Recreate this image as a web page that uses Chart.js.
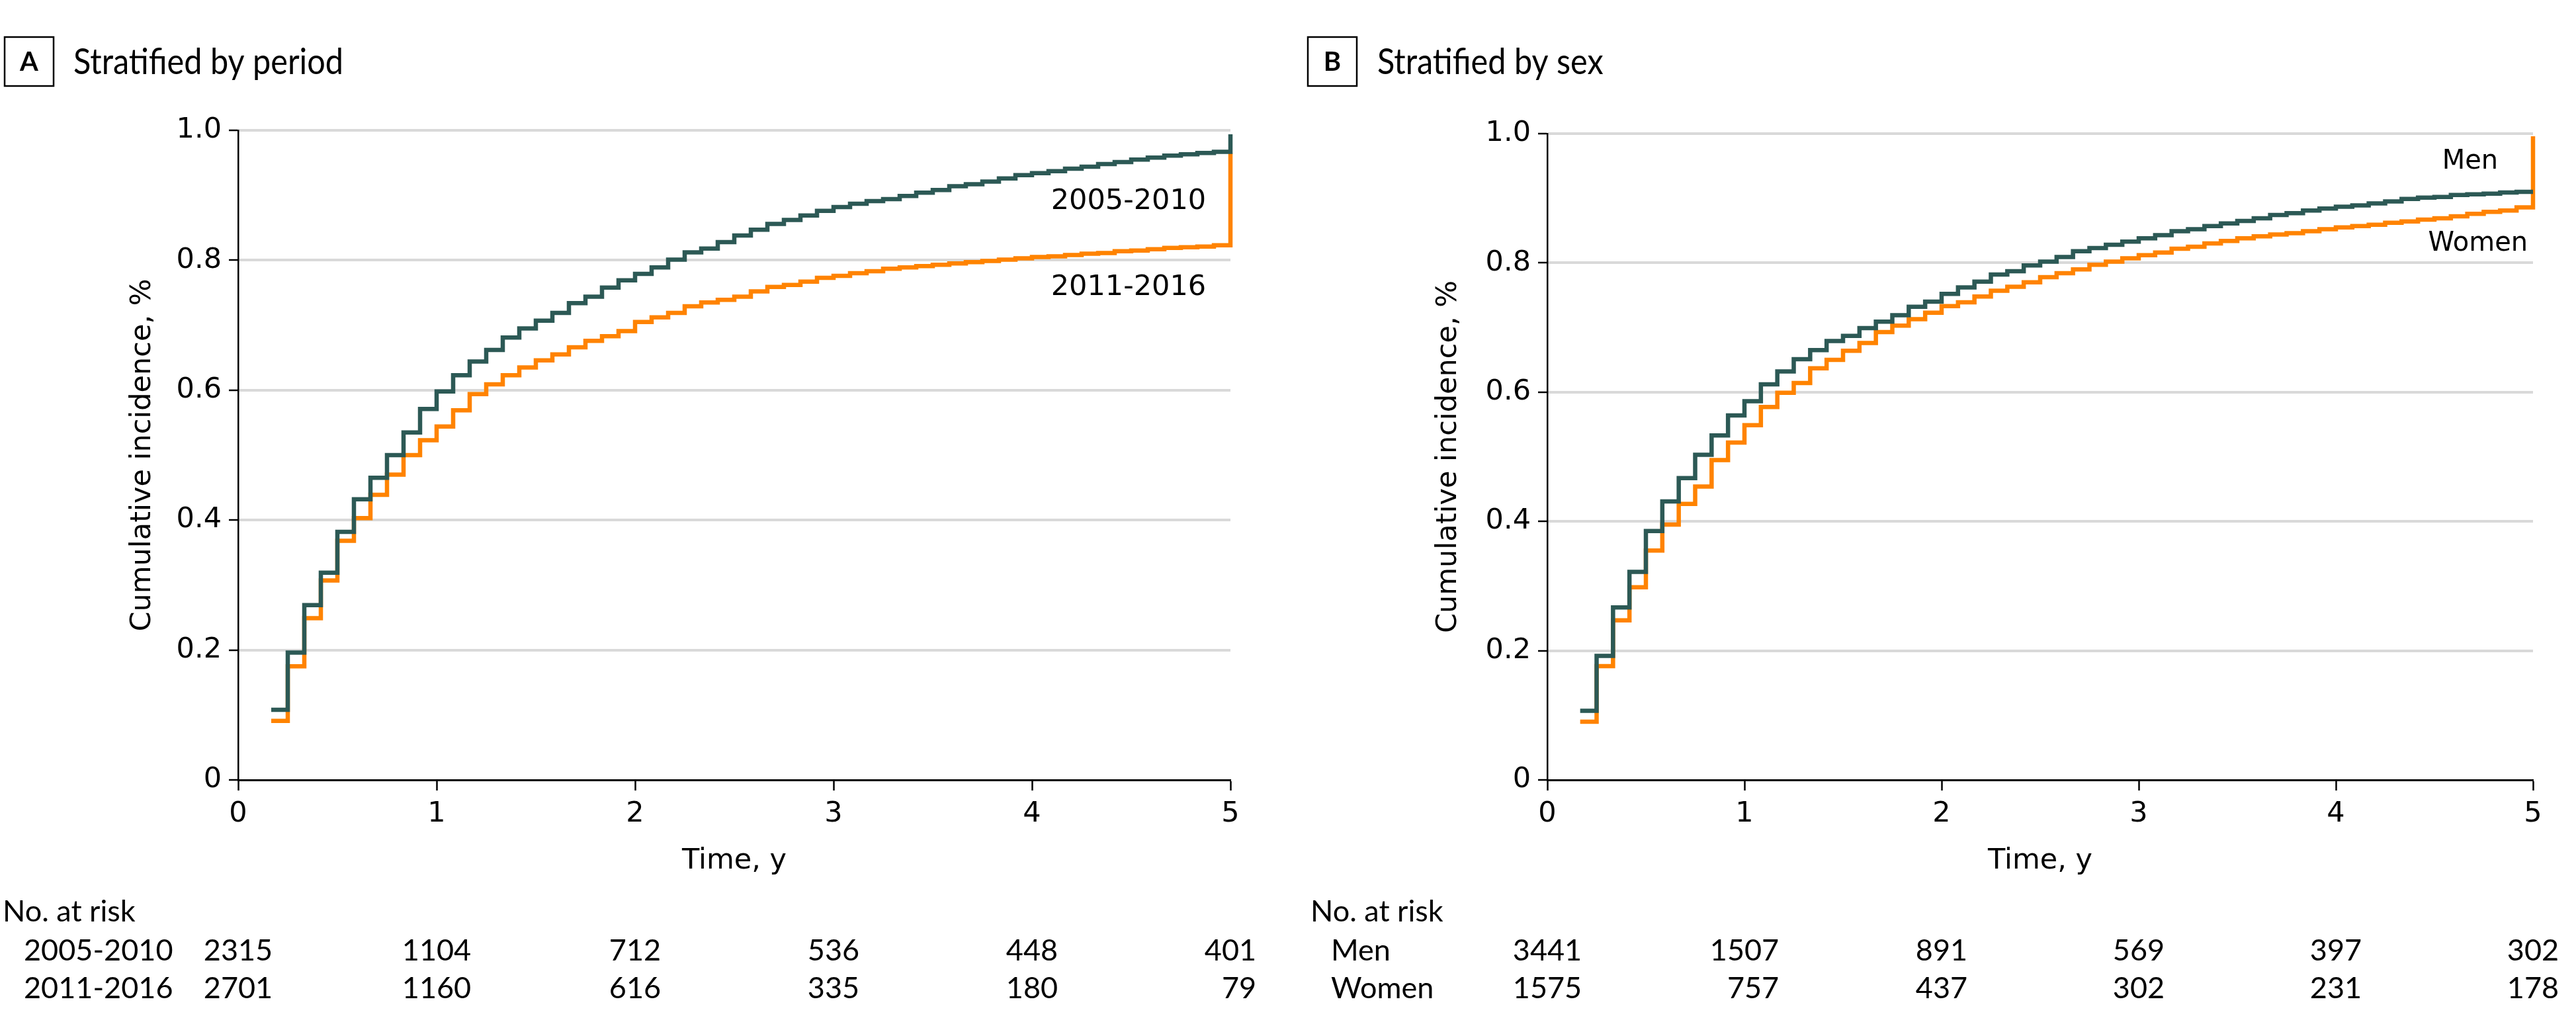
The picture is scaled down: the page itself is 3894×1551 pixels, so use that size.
<!DOCTYPE html>
<html>
<head>
<meta charset="utf-8">
<script src="https://cdn.jsdelivr.net/npm/chart.js@4.4.1/dist/chart.umd.min.js"></script>
<style>
  html, body { margin: 0; padding: 0; background: #ffffff; }
  #wrap { position: relative; width: 3894px; height: 1551px; background: #ffffff; }
  canvas { position: absolute; top: 0; }
  #cA { left: 0; }
  #cB { left: 1947px; }
</style>
</head>
<body>
<div id="wrap">
  <canvas id="cA" width="1947" height="1551"></canvas>
  <canvas id="cB" width="1947" height="1551"></canvas>
</div>
<script>
// ---------------- DATA ----------------
// Months since start at which the monthly step values apply (converted to years below)
const months = [2,3,4,5,6,7,8,9,10,11,12,13,14,15,16,17,18,19,20,21,22,23,24,25,26,27,28,29,30,31,
                32,33,34,35,36,37,38,39,40,41,42,43,44,45,46,47,48,49,50,51,52,53,54,55,56,57,58,59,60];

// Panel A: stratified by period
const period2005_2010 = [0.108,0.196,0.269,0.319,0.382,0.432,0.465,0.500,0.535,0.571,0.598,0.623,0.644,0.662,0.681,
  0.695,0.707,0.719,0.734,0.744,0.758,0.769,0.779,0.789,0.801,0.812,0.818,0.828,0.838,0.847,0.856,0.862,0.869,0.876,
  0.882,0.887,0.891,0.894,0.899,0.904,0.908,0.914,0.917,0.921,0.926,0.931,0.934,0.937,0.941,0.944,0.948,0.951,0.955,
  0.958,0.961,0.963,0.965,0.967,0.994];
const period2011_2016 = [0.091,0.175,0.249,0.307,0.368,0.403,0.439,0.470,0.500,0.523,0.544,0.569,0.594,0.609,0.623,
  0.635,0.646,0.655,0.666,0.676,0.683,0.691,0.705,0.712,0.719,0.729,0.735,0.739,0.744,0.752,0.759,0.762,0.767,0.773,
  0.776,0.780,0.783,0.787,0.789,0.791,0.793,0.795,0.797,0.799,0.801,0.803,0.805,0.806,0.808,0.810,0.811,0.814,0.815,
  0.817,0.819,0.820,0.821,0.823,0.965];

// Panel B: stratified by sex
const sexMen = [0.107,0.192,0.267,0.322,0.385,0.431,0.467,0.503,0.533,0.564,0.586,0.612,0.632,0.651,0.665,
  0.679,0.687,0.699,0.709,0.719,0.732,0.740,0.752,0.762,0.771,0.782,0.787,0.796,0.802,0.809,0.818,0.823,0.828,0.833,
  0.838,0.843,0.849,0.852,0.857,0.861,0.865,0.869,0.874,0.877,0.881,0.884,0.887,0.889,0.892,0.895,0.899,0.901,0.902,
  0.905,0.906,0.907,0.909,0.910,0.910];
const sexWomen = [0.090,0.176,0.247,0.298,0.355,0.395,0.427,0.454,0.495,0.522,0.549,0.577,0.599,0.614,0.637,
  0.650,0.664,0.676,0.693,0.703,0.713,0.723,0.733,0.739,0.748,0.757,0.763,0.770,0.778,0.784,0.790,0.797,0.802,0.807,
  0.812,0.816,0.822,0.825,0.830,0.834,0.838,0.841,0.844,0.846,0.849,0.852,0.855,0.857,0.859,0.862,0.864,0.867,0.869,
  0.872,0.876,0.879,0.881,0.886,0.996];

// Number at risk (at years 0..5)
const riskTimes = [0,1,2,3,4,5];
const risk2005_2010 = [2315,1104,712,536,448,401];
const risk2011_2016 = [2701,1160,616,335,180,79];
const riskMen = [3441,1507,891,569,397,302];
const riskWomen = [1575,757,437,302,231,178];

// Tick labels
const xTickLabels = ['0','1','2','3','4','5'];
const yTickLabels = ['0','0.2','0.4','0.6','0.8','1.0'];

// Colors
const TEAL = '#2c5955';
const ORANGE = '#ff8300';

// ---------------- PLUGIN: panel title, inline labels, risk table ----------------
const annotPlugin = {
  id: 'annot',
  afterDraw(chart, args, o) {
    const ctx = chart.ctx;
    const xs = chart.scales.x, ys = chart.scales.y;
    ctx.save();
    // Panel letter box
    ctx.strokeStyle = '#000';
    ctx.lineWidth = 2.5;
    ctx.strokeRect(o.boxX, 56, 74, 74);
    ctx.fillStyle = '#000';
    ctx.font = 'bold 40px Lato';
    ctx.textAlign = 'center';
    ctx.textBaseline = 'alphabetic';
    ctx.fillText(o.letter, o.boxX + 37, 107);
    // Panel title (condensed face)
    ctx.save();
    ctx.font = '54px Lato';
    ctx.textAlign = 'left';
    ctx.translate(o.titleX, 112);
    ctx.scale(0.9, 1);
    ctx.fillText(o.title, 0, 0);
    ctx.restore();
    // Inline series labels
    ctx.font = o.labelFont;
    ctx.textBaseline = 'middle';
    o.labels.forEach(l => {
      ctx.textAlign = l.align;
      ctx.fillText(l.text, xs.getPixelForValue(l.x), ys.getPixelForValue(l.y));
    });
    // Number at risk table
    ctx.font = '45px Lato';
    ctx.textBaseline = 'alphabetic';
    ctx.textAlign = 'left';
    ctx.fillText('No. at risk', o.tableX, 1393);
    const rowY = [1452, 1509];
    o.rows.forEach((r, ri) => {
      ctx.textAlign = 'left';
      ctx.fillText(r.name, o.rowLabelX, rowY[ri]);
    });
    riskTimes.forEach((t, ci) => {
      const w = Math.max(...o.rows.map(r => ctx.measureText(String(r.values[ci])).width));
      const right = xs.getPixelForValue(t) + w / 2;
      ctx.textAlign = 'right';
      o.rows.forEach((r, ri) => ctx.fillText(String(r.values[ci]), right, rowY[ri]));
    });
    ctx.restore();
  }
};

function buildPanel(id, cfg) {
  const datasets = cfg.series.map(s => ({
    label: s.name,
    data: months.map((m, i) => ({ x: m / 12, y: s.values[i] })),
    borderColor: s.color,
    backgroundColor: s.color,
    borderWidth: 6.5,
    stepped: 'before',
    pointRadius: 0,
    pointHoverRadius: 0,
    fill: false,
    tension: 0,
    borderJoinStyle: 'miter',
    borderCapStyle: 'butt',
    clip: 12
  }));
  return new Chart(document.getElementById(id), {
    type: 'line',
    data: { datasets },
    options: {
      responsive: false,
      maintainAspectRatio: false,
      animation: false,
      devicePixelRatio: 1,
      events: [],
      layout: { padding: { top: cfg.top, right: cfg.right, bottom: 0, left: 0 } },
      plugins: {
        legend: { display: false },
        tooltip: { enabled: false },
        annot: cfg.annot
      },
      scales: {
        x: {
          type: 'linear',
          min: 0, max: 5,
          afterFit: s => { s.height = 1551 - 1179; },
          ticks: {
            stepSize: 1,
            autoSkip: false,
            maxRotation: 0,
            padding: 10,
            color: '#000',
            font: { family: 'DejaVu Sans', size: 43 },
            callback: v => xTickLabels[v]
          },
          grid: { drawOnChartArea: false, drawTicks: true, tickLength: 16, tickColor: '#000', tickWidth: 2.5 },
          border: { display: true, color: '#000', width: 3 },
          title: {
            display: true, text: 'Time, y', color: '#000',
            font: { family: 'DejaVu Sans', size: 43, lineHeight: 1 },
            padding: { top: 0, bottom: 228 }
          }
        },
        y: {
          type: 'linear',
          min: 0, max: 1,
          afterFit: s => { s.width = cfg.left; },
          ticks: {
            stepSize: 0.2,
            padding: 11,
            color: '#000',
            font: { family: 'DejaVu Sans', size: 43 },
            callback: v => yTickLabels[Math.round(v / 0.2)]
          },
          grid: {
            color: c => (c.tick && c.tick.value === 0) ? 'rgba(0,0,0,0)' : '#d9d9d9',
            lineWidth: 4,
            drawTicks: true, tickLength: 14, tickColor: '#000', tickWidth: 2.5
          },
          border: { display: true, color: '#000', width: 2.5 },
          title: {
            display: true, text: 'Cumulative incidence, %', color: '#000',
            font: { family: 'DejaVu Sans', size: 43, lineHeight: 1 },
            padding: { top: cfg.yTitlePad, bottom: 0 }
          }
        }
      }
    },
    plugins: [annotPlugin]
  });
}

buildPanel('cA', {
  top: 197, right: 87, left: 360, yTitlePad: 194,
  series: [
    { name: '2005-2010', values: period2005_2010, color: TEAL },
    { name: '2011-2016', values: period2011_2016, color: ORANGE }
  ],
  annot: {
    letter: 'A', boxX: 7, title: 'Stratified by period', titleX: 111,
    labelFont: '43px DejaVu Sans',
    labels: [
      { text: '2005-2010', x: 4.877, y: 0.890, align: 'right' },
      { text: '2011-2016', x: 4.877, y: 0.758, align: 'right' }
    ],
    tableX: 4, rowLabelX: 36,
    rows: [
      { name: '2005-2010', values: risk2005_2010 },
      { name: '2011-2016', values: risk2011_2016 }
    ]
  }
});

buildPanel('cB', {
  top: 202, right: 65, left: 392, yTitlePad: 221,
  series: [
    { name: 'Men', values: sexMen, color: TEAL },
    { name: 'Women', values: sexWomen, color: ORANGE }
  ],
  annot: {
    letter: 'B', boxX: 30, title: 'Stratified by sex', titleX: 135,
    labelFont: '40px DejaVu Sans',
    labels: [
      { text: 'Men', x: 4.681, y: 0.956, align: 'center' },
      { text: 'Women', x: 4.721, y: 0.829, align: 'center' }
    ],
    tableX: 34, rowLabelX: 65,
    rows: [
      { name: 'Men', values: riskMen },
      { name: 'Women', values: riskWomen }
    ]
  }
});
</script>
</body>
</html>
